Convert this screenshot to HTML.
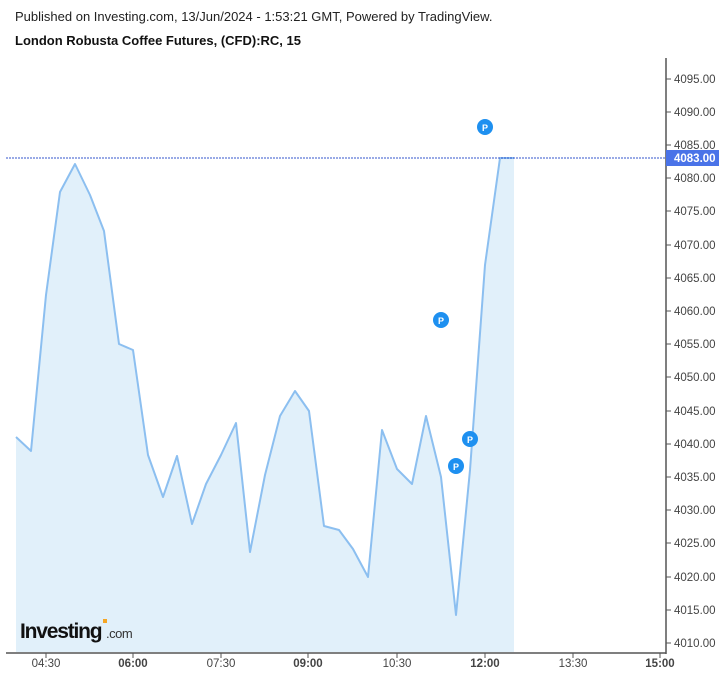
<!DOCTYPE html>
<html><head><meta charset="utf-8"><style>
body{margin:0;background:#fff;width:725px;height:677px;overflow:hidden;font-family:"Liberation Sans",Arial,sans-serif}
</style></head><body>
<svg width="725" height="677" xmlns="http://www.w3.org/2000/svg" font-family="Liberation Sans, Arial, sans-serif">
<text x="15" y="21" font-size="13" fill="#222">Published on Investing.com, 13/Jun/2024 - 1:53:21 GMT, Powered by TradingView.</text>
<text x="15" y="45" font-size="13" font-weight="bold" fill="#111">London Robusta Coffee Futures, (CFD):RC, 15</text>
<polygon fill="#e1f0fa" points="16,652 16,437 31,451 46,295 60,192 75,164 90,195 104,231 119,344 133,350 148,455 163,497 177,456 192,524 206,484 221,455 236,423 250,552 265,475 280,416 295,391 309,411 324,526 339,530 353,549 368,577 382,430 397,469 412,484 426,416 441,477 456,615 470,470 485,265 500,158 514,158 514,652"/>
<polyline fill="none" stroke="#8cbff0" stroke-width="2" stroke-linejoin="round" points="16,437 31,451 46,295 60,192 75,164 90,195 104,231 119,344 133,350 148,455 163,497 177,456 192,524 206,484 221,455 236,423 250,552 265,475 280,416 295,391 309,411 324,526 339,530 353,549 368,577 382,430 397,469 412,484 426,416 441,477 456,615 470,470 485,265 500,158 514,158"/>
<line x1="6" y1="158" x2="666" y2="158" stroke="#3355cc" stroke-width="1" stroke-dasharray="2,1"/>
<line x1="666" y1="58" x2="666" y2="654" stroke="#555" stroke-width="1.5"/>
<line x1="6" y1="653" x2="666" y2="653" stroke="#555" stroke-width="1.5"/>
<g font-size="11.5" fill="#444">
<g stroke="#555"><line x1="666" x2="671" y1="79" y2="79"/><line x1="666" x2="671" y1="112" y2="112"/><line x1="666" x2="671" y1="145" y2="145"/><line x1="666" x2="671" y1="178" y2="178"/><line x1="666" x2="671" y1="211" y2="211"/><line x1="666" x2="671" y1="245" y2="245"/><line x1="666" x2="671" y1="278" y2="278"/><line x1="666" x2="671" y1="311" y2="311"/><line x1="666" x2="671" y1="344" y2="344"/><line x1="666" x2="671" y1="377" y2="377"/><line x1="666" x2="671" y1="411" y2="411"/><line x1="666" x2="671" y1="444" y2="444"/><line x1="666" x2="671" y1="477" y2="477"/><line x1="666" x2="671" y1="510" y2="510"/><line x1="666" x2="671" y1="543" y2="543"/><line x1="666" x2="671" y1="577" y2="577"/><line x1="666" x2="671" y1="610" y2="610"/><line x1="666" x2="671" y1="643" y2="643"/></g>
<text x="674" y="83">4095.00</text><text x="674" y="116">4090.00</text><text x="674" y="149">4085.00</text><text x="674" y="182">4080.00</text><text x="674" y="215">4075.00</text><text x="674" y="249">4070.00</text><text x="674" y="282">4065.00</text><text x="674" y="315">4060.00</text><text x="674" y="348">4055.00</text><text x="674" y="381">4050.00</text><text x="674" y="415">4045.00</text><text x="674" y="448">4040.00</text><text x="674" y="481">4035.00</text><text x="674" y="514">4030.00</text><text x="674" y="547">4025.00</text><text x="674" y="581">4020.00</text><text x="674" y="614">4015.00</text><text x="674" y="647">4010.00</text>
<g stroke="#555"><line x1="46" x2="46" y1="653" y2="658"/><line x1="133" x2="133" y1="653" y2="658"/><line x1="221" x2="221" y1="653" y2="658"/><line x1="308" x2="308" y1="653" y2="658"/><line x1="397" x2="397" y1="653" y2="658"/><line x1="485" x2="485" y1="653" y2="658"/><line x1="573" x2="573" y1="653" y2="658"/><line x1="660" x2="660" y1="653" y2="658"/></g>
<g text-anchor="middle"><text x="46" y="667">04:30</text><text x="133" y="667" font-weight="bold">06:00</text><text x="221" y="667">07:30</text><text x="308" y="667" font-weight="bold">09:00</text><text x="397" y="667">10:30</text><text x="485" y="667" font-weight="bold">12:00</text><text x="573" y="667">13:30</text><text x="660" y="667" font-weight="bold">15:00</text></g>
</g>
<rect x="666" y="150" width="53" height="16" fill="#4a73e8"/>
<text x="674" y="162" font-size="11.5" font-weight="bold" fill="#fff">4083.00</text>
<g font-size="9" font-weight="bold" fill="#fff" text-anchor="middle">
<circle cx="485" cy="127" r="8" fill="#1e90f0"/><text x="485" y="131">P</text>
<circle cx="441" cy="320" r="8" fill="#1e90f0"/><text x="441" y="324">P</text>
<circle cx="470" cy="439" r="8" fill="#1e90f0"/><text x="470" y="443">P</text>
<circle cx="456" cy="466" r="8" fill="#1e90f0"/><text x="456" y="470">P</text>
</g>
<text x="20" y="638" font-size="21" font-weight="bold" fill="#111" letter-spacing="-1.2">Investing</text>
<text x="106" y="638" font-size="13" fill="#333" letter-spacing="-0.5">.com</text>
<rect x="103" y="619" width="4" height="4" fill="#f5a623"/>
</svg>
</body></html>
